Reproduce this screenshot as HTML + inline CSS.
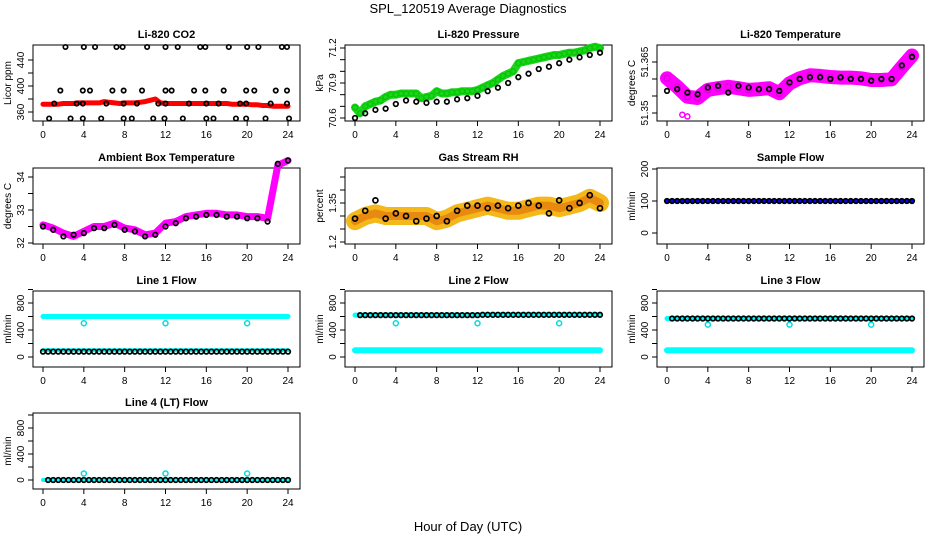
<!DOCTYPE html>
<html><head><meta charset="utf-8">
<style>
html,body{margin:0;padding:0;background:#fff;}
svg{display:block;font-family:"Liberation Sans",sans-serif;}
</style></head>
<body>
<svg id="chart" width="936" height="540" viewBox="0 0 936 540" xmlns="http://www.w3.org/2000/svg">
<rect x="0" y="0" width="936" height="540" fill="#fff"/>
<text x="468" y="13" text-anchor="middle" font-size="13">SPL_120519  Average Diagnostics</text>
<text x="468" y="531" text-anchor="middle" font-size="13">Hour of Day (UTC)</text>
</svg>
<script>
// ---- data ----
const halfHours = [0,0.5,1,1.5,2,2.5,3,3.5,4,4.5,5,5.5,6,6.5,7,7.5,8,8.5,9,9.5,10,10.5,11,11.5,12,12.5,13,13.5,14,14.5,15,15.5,16,16.5,17,17.5,18,18.5,19,19.5,20,20.5,21,21.5,22,22.5,23,23.5,24];
const hours = [0,1,2,3,4,5,6,7,8,9,10,11,12,13,14,15,16,17,18,19,20,21,22,23,24];

const co2Red = [372,372,372,372,373,373,373,374,374,374,374,374,376,375,374,373,374,374,374,375,376,378,380,374,373,373,373,373,373,373,373,373,373,373,373,373,373,372,372,372,372,371,371,370,370,369,369,369,369];
const co2BlackX = [2.2,4.0,5.1,7.2,7.8,10.2,12.0,13.2,15.4,15.9,18.2,20.0,21.1,23.4,23.9,
 1.7,3.9,4.6,6.8,7.9,9.7,12.0,12.6,14.8,15.9,17.7,19.9,20.7,22.8,23.9,
 1.1,3.3,3.9,6.2,7.9,9.2,11.3,12.0,14.3,16.0,17.2,19.3,19.9,22.3,23.9,
 0.6,2.7,3.9,5.7,7.9,8.7,10.8,11.9,13.7,16.0,16.7,18.9,19.9,21.8,24.1];
const co2BlackY = [460,460,460,460,460,460,460,460,460,460,460,460,460,460,460,
 393,393,393,393,393,393,393,393,393,393,393,393,393,393,393,
 373,373,373,373,373,373,373,373,373,373,373,373,373,373,373,
 350,350,350,350,350,350,350,350,350,350,350,350,350,350,350];

const pressGreen = [70.69,70.64,70.70,70.72,70.74,70.75,70.78,70.80,70.80,70.81,70.81,70.81,70.81,70.77,70.78,70.79,70.83,70.81,70.81,70.82,70.82,70.83,70.83,70.83,70.84,70.86,70.88,70.90,70.93,70.96,70.98,71.00,71.07,71.08,71.09,71.10,71.11,71.12,71.13,71.14,71.14,71.15,71.16,71.16,71.17,71.18,71.20,71.21,71.20];
const pressBlack = [70.60,70.64,70.67,70.68,70.72,70.75,70.74,70.73,70.74,70.74,70.76,70.77,70.79,70.83,70.86,70.90,70.95,70.98,71.02,71.04,71.07,71.10,71.12,71.14,71.16];

const tempMag = [51.3602,51.3577,51.3548,51.3544,51.3568,51.3573,51.3577,51.3573,51.3568,51.3570,51.3573,51.3558,51.3587,51.3602,51.3611,51.3609,51.3606,51.3604,51.3604,51.3602,51.3597,51.3597,51.3599,51.3635,51.3669];
const tempBlack = [51.3565,51.3570,51.3560,51.3555,51.3575,51.3580,51.3560,51.3580,51.3575,51.3570,51.3570,51.3565,51.3590,51.3600,51.3605,51.3605,51.3600,51.3605,51.3600,51.3600,51.3595,51.3600,51.3600,51.3640,51.3665];
const tempOutX = [1.5,2.0];
const tempOutY = [51.3495,51.3490];

const ambMag = [32.55,32.45,32.3,32.2,32.35,32.5,32.5,32.6,32.45,32.4,32.25,32.3,32.6,32.65,32.8,32.85,32.9,32.9,32.85,32.85,32.8,32.8,32.75,34.35,34.5];
const ambBlack = [32.5,32.4,32.2,32.25,32.3,32.45,32.45,32.55,32.4,32.35,32.2,32.25,32.5,32.6,32.75,32.8,32.85,32.85,32.8,32.8,32.75,32.75,32.65,34.4,34.5];

const rhBand = [1.28,1.30,1.31,1.30,1.30,1.30,1.30,1.30,1.28,1.29,1.31,1.32,1.33,1.34,1.33,1.32,1.32,1.33,1.34,1.34,1.33,1.34,1.35,1.37,1.35];
const rhBlack = [1.29,1.32,1.36,1.29,1.31,1.30,1.28,1.29,1.30,1.28,1.32,1.34,1.34,1.33,1.34,1.33,1.34,1.35,1.34,1.31,1.36,1.33,1.35,1.38,1.33];

const sampleFlow = [100,100,100,100,100,100,100,100,100,100,100,100,100,100,100,100,100,100,100,100,100,100,100,100,100,100,100,100,100,100,100,100,100,100,100,100,100,100,100,100,100,100,100,100,100,100,100,100,100];

const spikeX = [4,12,20];
const line1Black = [80,80,80,80,80,80,80,80,80,80,80,80,80,80,80,80,80,80,80,80,80,80,80,80,80,80,80,80,80,80,80,80,80,80,80,80,80,80,80,80,80,80,80,80,80,80,80,80,80];
const line1CyanHi = [600,600,600,600,600,600,600,600,600,600,600,600,600,600,600,600,600,600,600,600,600,600,600,600,600];
const line1CyanLo = [100,100,100,100,100,100,100,100,100,100,100,100,100,100,100,100,100,100,100,100,100,100,100,100,100];
const line1Spike = [500,500,500];
const line2Black = [620,620,620,620,620,620,620,620,620,620,620,620,620,620,620,620,620,620,620,620,620,620,620,620,620,625,625,625,625,625,625,625,625,625,625,625,625,625,625,625,625,625,625,625,625,625,625,625,625];
const line2CyanLo = [100,100,100,100,100,100,100,100,100,100,100,100,100,100,100,100,100,100,100,100,100,100,100,100,100];
const line2Spike = [500,500,500];
const line3Black = [570,570,570,570,570,570,570,570,570,570,570,570,570,570,570,570,570,570,570,570,570,570,570,570,570,570,570,570,570,570,570,570,570,570,570,570,570,570,570,570,570,570,570,570,570,570,570,570,570];
const line3CyanLo = [100,100,100,100,100,100,100,100,100,100,100,100,100,100,100,100,100,100,100,100,100,100,100,100,100];
const line3Spike = [480,480,480];
const line4Black = [0,0,0,0,0,0,0,0,0,0,0,0,0,0,0,0,0,0,0,0,0,0,0,0,0,0,0,0,0,0,0,0,0,0,0,0,0,0,0,0,0,0,0,0,0,0,0,0,0];
const line4Spike = [100,100,100];

// ---- drawing ----
const svg = document.getElementById('chart');
const NS = 'http://www.w3.org/2000/svg';
const rowTops = [45,168,291,413];
const colLefts = [33,345,657];
const W = 267, H = 76;

function mk(tag, attrs, parent){
  const e = document.createElementNS(NS, tag);
  for (const k in attrs) e.setAttribute(k, attrs[k]);
  (parent||svg).appendChild(e);
  return e;
}

function panel(r, c, title, ylab, v0, o0, v1, o1, yticks, ylabels){
  const g = mk('g', {});
  
  
  const L = colLefts[c], T = rowTops[r];
  const xs = h => L + 10 + h * 245 / 24;
  const ys = v => T + o0 + (v - v0) * (o1 - o0) / (v1 - v0);
  const box = mk('rect', {x:L, y:T, width:W, height:H, fill:'none', stroke:'#000', 'stroke-width':1}, g);
  
  
  const t = mk('text', {x:L + W/2, y:T - 7, 'text-anchor':'middle', 'font-size':11, 'font-weight':'bold'}, g);
  t.textContent = title;
  
  
  [0,4,8,12,16,20,24].forEach(h => {
    const tk = mk('line', {x1:xs(h), x2:xs(h), y1:T+H, y2:T+H+5, stroke:'#000'}, g);
    
    
    const tl = mk('text', {x:xs(h), y:T+H+17, 'text-anchor':'middle', 'font-size':10}, g);
    tl.textContent = h;
    
    
  });
  yticks.forEach(v => {
    const tk = mk('line', {x1:L-5, x2:L, y1:ys(v), y2:ys(v), stroke:'#000'}, g);
    
    
  });
  ylabels.forEach(v => {
    const yy = ys(v);
    const tl = mk('text', {x:0, y:0, 'text-anchor':'middle', 'font-size':10, transform:'translate(' + (L-9) + ',' + yy + ') rotate(-90)'}, g);
    tl.textContent = v;
    
    
  });
  const yl = mk('text', {x:0, y:0, 'text-anchor':'middle', 'font-size':10, transform:'translate(' + (L-22) + ',' + (T+H/2) + ') rotate(-90)'}, g);
  yl.textContent = ylab;
  
  
  return {g, xs, ys, L, T};
}

function band(p, xArr, yArr, color, width, name){
  const d = xArr.map((x,i) => (i ? 'L' : 'M') + p.xs(x).toFixed(1) + ' ' + p.ys(yArr[i]).toFixed(1)).join(' ');
  const e = mk('path', {d:d, fill:'none', stroke:color, 'stroke-width':width, 'stroke-linejoin':'round', 'stroke-linecap':'round'}, p.g);
  
  
}
function pts(p, xArr, yArr, color, r, sw, name){
  xArr.forEach((x,i) => {
    const e = mk('circle', {cx:p.xs(x), cy:p.ys(yArr[i]), r:r, fill:'none', stroke:color, 'stroke-width':sw}, p.g);
    
    
  });
}
const BSW = 1.7;

// Panel 1: CO2
let p = panel(0,0,'Li-820 CO2','Licor ppm',360,67,440,15,[360,380,400,420,440],[360,400,440]);
band(p, halfHours, co2Red, '#f00', 5, 'co2-red-series');
pts(p, co2BlackX, co2BlackY, '#000', 2.2, BSW, 'co2-point');

// Panel 2: Pressure
p = panel(0,1,'Li-820 Pressure','kPa',70.6,73,71.2,3,[70.6,70.7,70.8,70.9,71.0,71.1,71.2],[70.6,70.9,71.2]);
band(p, halfHours, pressGreen, '#1ed21e', 8, 'pressure-green-series');
pts(p, halfHours, pressGreen, '#00c800', 2.5, 1.2, 'pressure-green-point');
pts(p, hours, pressBlack, '#000', 2.3, BSW, 'pressure-black-point');

// Panel 3: Temperature
p = panel(0,2,'Li-820 Temperature','degrees C',51.350,68,51.365,17,[51.350,51.355,51.360,51.365],[51.350,51.365]);
band(p, hours, tempMag, '#f0f', 14, 'temperature-magenta-series');
pts(p, hours, tempMag, '#e000e0', 3, 1.5, 'temperature-magenta-point');
pts(p, tempOutX, tempOutY, '#f0f', 2.5, 1.5, 'temperature-outlier');
pts(p, hours, tempBlack, '#000', 2.3, BSW, 'temperature-black-point');

// Panel 4: Ambient Box Temperature
p = panel(1,0,'Ambient Box Temperature','degrees C',32.0,75,34.0,9,[32.0,32.5,33.0,33.5,34.0],[32.0,33.0,34.0]);
band(p, hours, ambMag, '#f0f', 7, 'ambient-magenta-series');
pts(p, hours, ambBlack, '#000', 2.3, BSW, 'ambient-black-point');

// Panel 5: Gas Stream RH
p = panel(1,1,'Gas Stream RH','percent',1.20,74,1.35,35,[1.20,1.25,1.30,1.35,1.40,1.45],[1.20,1.35]);
band(p, hours, rhBand, '#f5b81a', 18, 'rh-orange-series');
band(p, hours, rhBand, '#e88a10', 8, 'rh-orange-core');
pts(p, hours, rhBlack, '#000', 2.5, BSW, 'rh-black-point');

// Panel 6: Sample Flow
p = panel(1,2,'Sample Flow','ml/min',0,65,200,1,[0,100,200],[0,100,200]);
band(p, halfHours, sampleFlow, '#00f', 4, 'sample-flow-blue-series');
pts(p, halfHours, sampleFlow, '#000', 2.3, BSW, 'sample-flow-point');

const flowTicks = [0,200,400,600,800,1000];
const flowLabels = [0,400,800];

// Line 1
p = panel(2,0,'Line 1 Flow','ml/min',0,66,800,12,flowTicks,flowLabels);
band(p, hours, line1CyanHi, '#0ff', 5, 'line1-cyan-series');
band(p, hours, line1CyanLo, '#0ff', 4, 'line1-cyan-low-series');
pts(p, spikeX, line1Spike, '#0dd', 2.5, 1.5, 'line1-cyan-spike');
pts(p, halfHours, line1Black, '#000', 2.3, BSW, 'line1-black-point');

// Line 2
p = panel(2,1,'Line 2 Flow','ml/min',0,66,800,12,flowTicks,flowLabels);
band(p, hours, line2CyanLo, '#0ff', 6, 'line2-cyan-series');
band(p, halfHours, line2Black, '#0ff', 5, 'line2-cyan-high-series');
pts(p, spikeX, line2Spike, '#0dd', 2.5, 1.5, 'line2-cyan-spike');
pts(p, halfHours.slice(1), line2Black.slice(1), '#000', 2.3, BSW, 'line2-black-point');

// Line 3
p = panel(2,2,'Line 3 Flow','ml/min',0,66,800,12,flowTicks,flowLabels);
band(p, hours, line3CyanLo, '#0ff', 6, 'line3-cyan-series');
band(p, halfHours, line3Black, '#0ff', 5, 'line3-cyan-high-series');
pts(p, spikeX, line3Spike, '#0dd', 2.5, 1.5, 'line3-cyan-spike');
pts(p, halfHours.slice(1), line3Black.slice(1), '#000', 2.3, BSW, 'line3-black-point');

// Line 4
p = panel(3,0,'Line 4 (LT) Flow','ml/min',0,67,800,15,flowTicks,flowLabels);
band(p, halfHours, line4Black, '#0ff', 4, 'line4-cyan-series');
pts(p, spikeX, line4Spike, '#0dd', 2.5, 1.5, 'line4-cyan-spike');
pts(p, halfHours.slice(1), line4Black.slice(1), '#000', 2.3, BSW, 'line4-black-point');
</script>
</body></html>
